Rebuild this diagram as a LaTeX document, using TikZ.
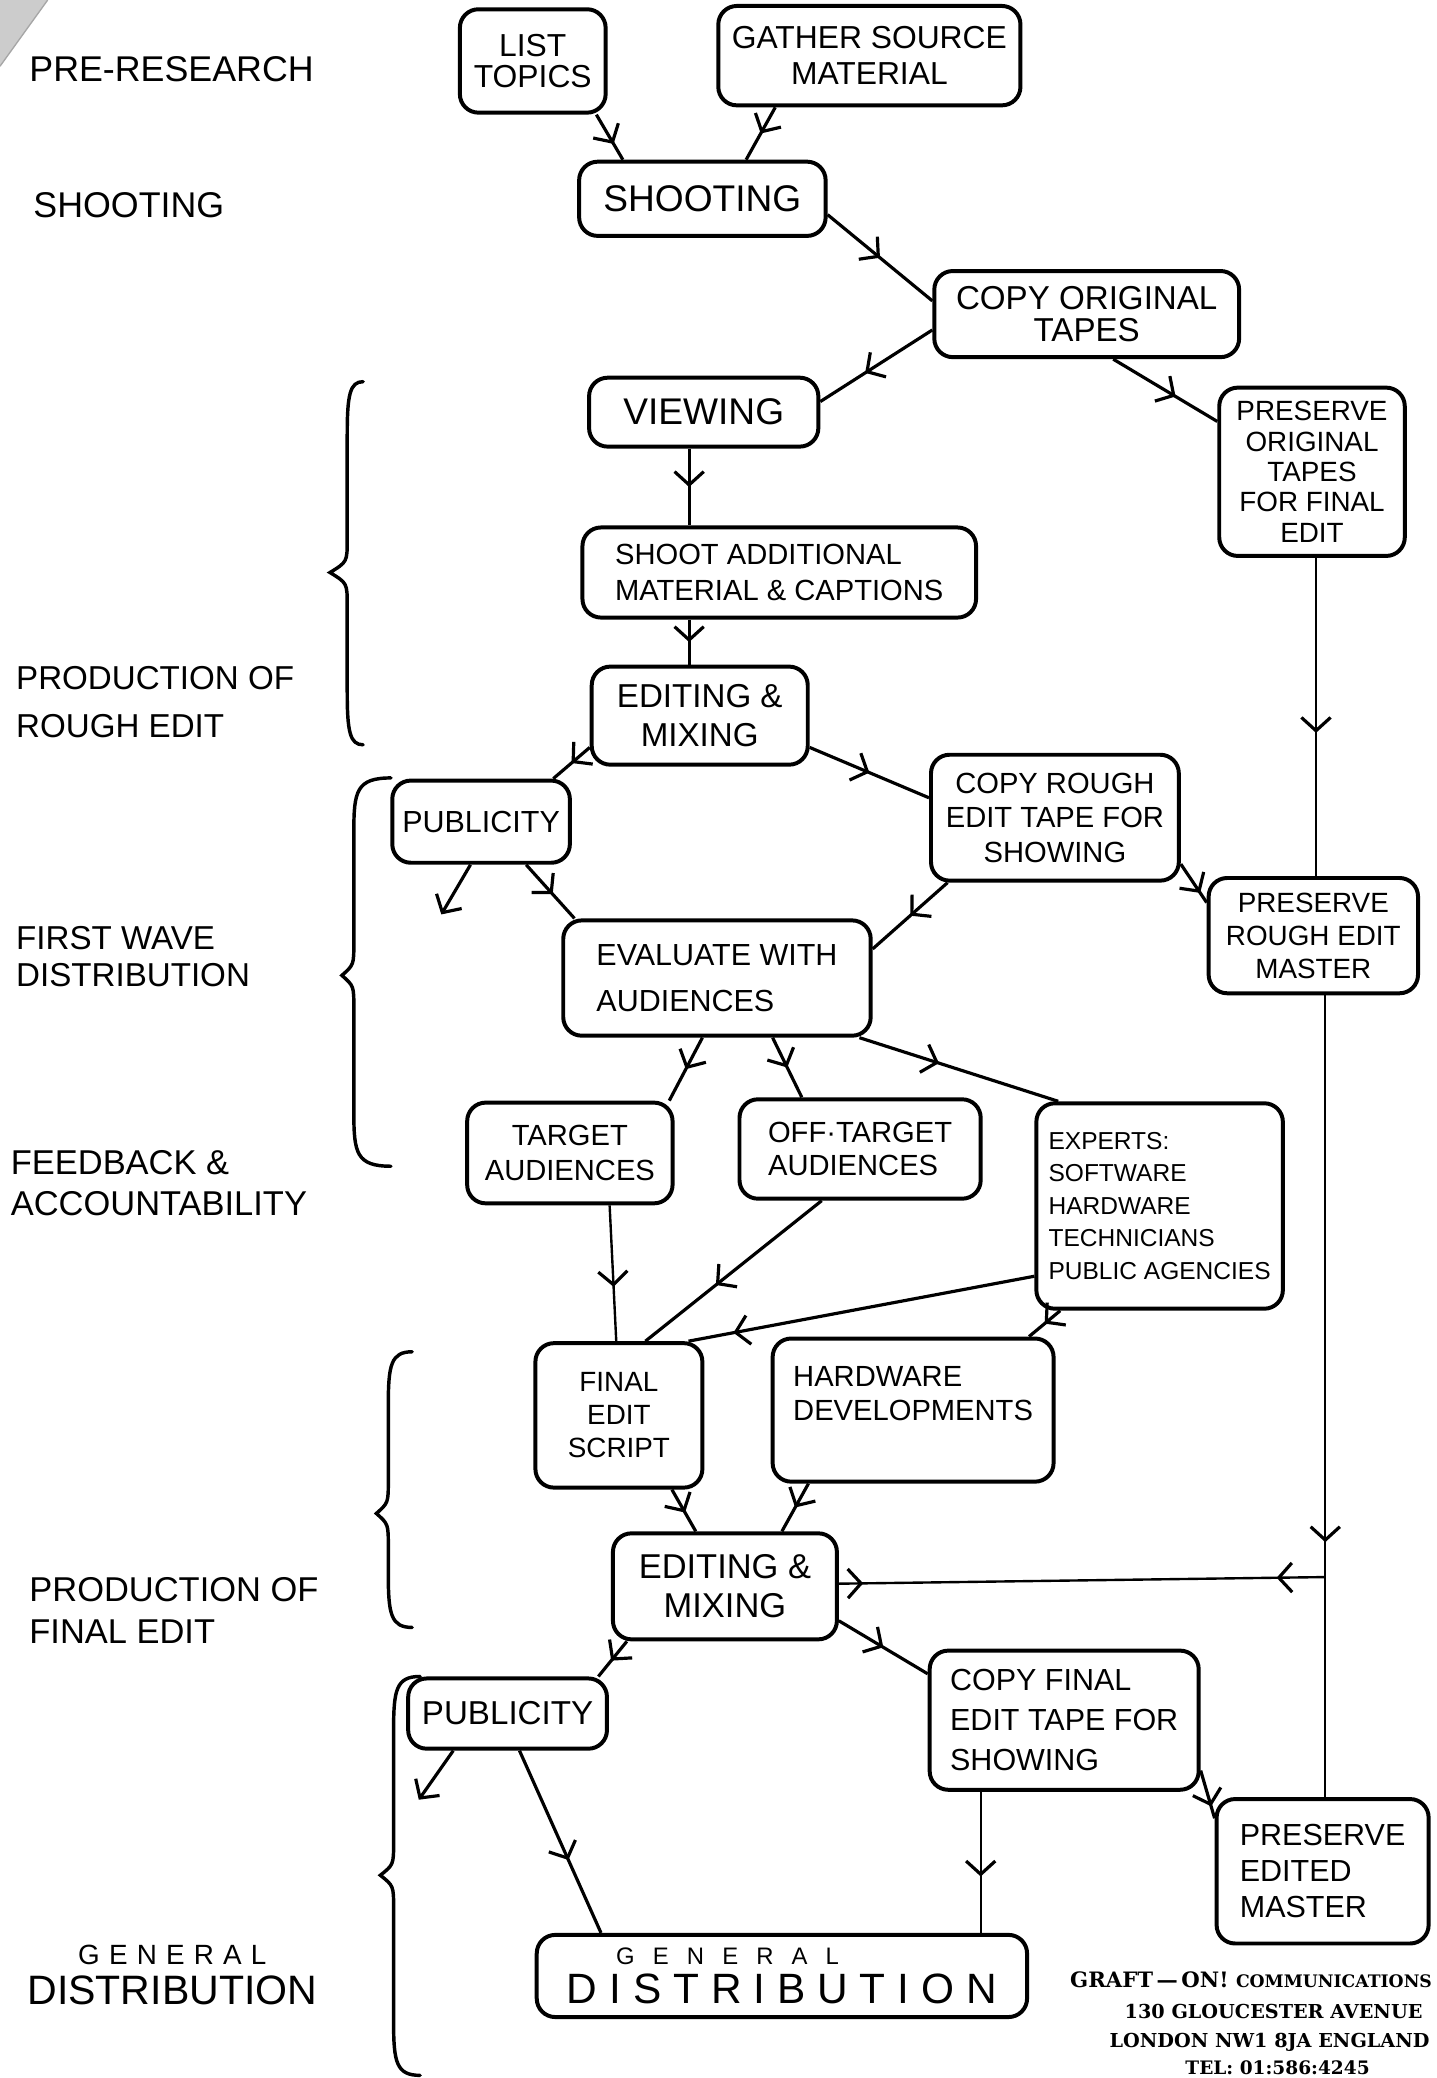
\documentclass[tikz,border=0pt]{standalone}
\usepackage{fontspec}
\setmainfont{Liberation Sans}
\newfontfamily\lhfont{DejaVu Serif}
\usetikzlibrary{arrows.meta,decorations.markings,calc}
\tikzset{
  chev/.tip={Straight Barb[length=10pt,width=22pt,line width=2.4pt]},
  box/.style={draw, line width=3pt, rounded corners=14pt, align=center, inner sep=2pt},
  fs/.style 2 args={font=\fontsize{#1}{#2}\selectfont},
  flow/.style={line width=2.4pt, postaction={decorate},
    decoration={markings, mark=at position #1 with {\arrow{chev}}}},
  flow/.default=0.5,
  thinl/.style={line width=1.8pt},
  free/.style={line width=2.4pt, -{chev}},
  brc/.style={line width=2.6pt, line cap=round},
  lab/.style={anchor=west, align=left, inner sep=0pt},
  lhead/.style={font=\lhfont\bfseries\fontsize{14.5}{14.5}\selectfont, inner sep=0pt}
}
\newcommand{\mybrace}[6]{%
  \draw[brc] (#1+#6,#2) .. controls (#1+2,#2) and (#1,#2+10) .. (#1,#2+40)
    -- (#1,#4-25) .. controls (#1,#4-8) .. (#5,#4)
    .. controls (#1,#4+8) .. (#1,#4+25)
    -- (#1,#3-40) .. controls (#1,#3-10) and (#1+2,#3) .. (#1+#6,#3);}
\begin{document}
\begin{tikzpicture}[x=1pt,y=-1pt]
\useasboundingbox (0,0) rectangle (1084,1568);
\clip (0,0) rectangle (1084,1568);
\fill[white] (0,0) rectangle (1084,1568);
% paper fold at top-left
\fill[gray!40] (0,0) -- (36,0) -- (0,50) -- cycle;
\draw[gray!70, line width=1pt] (36,0) -- (0,50);

% ---------- phase labels ----------
\node[lab, fs={27}{30}] (lpre) at (22,52) {PRE-RESEARCH};
\node[lab, fs={27}{30}] (lshoot) at (25,155) {SHOOTING};
\node[lab, fs={25}{36}] (lrough) at (12,530) {PRODUCTION OF\\ROUGH EDIT};
\node[lab, fs={25}{28}] (lfirst) at (12,722) {FIRST WAVE\\DISTRIBUTION};
\node[lab, fs={26}{31}] (lfeed) at (8,893) {FEEDBACK \&\\ACCOUNTABILITY};
\node[lab, fs={26}{32}] (lfinal) at (22,1215) {PRODUCTION OF\\FINAL EDIT};
\node[align=center, inner sep=0pt, fs={31}{30}] (lgen) at (130,1490)
  {{\fontsize{21}{21}\selectfont\addfontfeature{LetterSpace=33}GENERAL}\\DISTRIBUTION};

% ---------- braces ----------
\mybrace{262}{288}{562}{432}{249}{12}
\mybrace{267}{587}{880}{736}{258}{28}
\mybrace{293}{1020}{1228}{1142}{284}{18}
\mybrace{297}{1265}{1566}{1415}{287}{20}

% ---------- boxes ----------
\node[box, fs={24}{23}, minimum width=110pt, minimum height=78pt] (list) at (402,46) {LIST\\TOPICS};
\node[box, fs={24}{27}, minimum width=228pt, minimum height=75pt] (gather) at (656,42) {GATHER SOURCE\\MATERIAL};
\node[box, fs={28}{30}, minimum width=186pt, minimum height=56pt] (shoot) at (530,150) {SHOOTING};
\node[box, fs={25}{24}, minimum width=230pt, minimum height=65pt] (copyo) at (820,237) {COPY ORIGINAL\\TAPES};
\node[box, fs={28}{30}, minimum width=173pt, minimum height=52pt] (view) at (531,311) {VIEWING};
\node[box, fs={21}{23}, minimum width=140pt, minimum height=127pt] (preso) at (990,356) {PRESERVE\\ORIGINAL\\TAPES\\FOR FINAL\\EDIT};
\node[box, align=left, fs={22}{27}, minimum width=297pt, minimum height=68pt] (shootadd) at (588,432) {SHOOT ADDITIONAL\\MATERIAL \& CAPTIONS};
\node[box, fs={25}{30}, minimum width=163pt, minimum height=74pt] (edit1) at (528,540) {EDITING \&\\MIXING};
\node[box, fs={23}{26}, minimum width=134pt, minimum height=62pt] (pub1) at (363,620) {PUBLICITY};
\node[box, fs={22}{26}, minimum width=187pt, minimum height=95pt] (copyr) at (796,617) {COPY ROUGH\\EDIT TAPE FOR\\SHOWING};
\node[box, fs={21}{25}, minimum width=158pt, minimum height=87pt] (presr) at (991,706) {PRESERVE\\ROUGH EDIT\\MASTER};
\node[box, align=left, fs={23}{35}, minimum width=232pt, minimum height=87pt] (eval) at (541,738) {EVALUATE WITH\\AUDIENCES};
\node[box, fs={22}{26}, minimum width=155pt, minimum height=76pt] (target) at (430,870) {TARGET\\AUDIENCES};
\node[box, align=left, fs={22}{25}, minimum width=182pt, minimum height=75pt] (offt) at (649,867) {OFF·TARGET\\AUDIENCES};
\node[box, align=left, fs={18.5}{24.5}, minimum width=186pt, minimum height=155pt] (experts) at (875,910) {EXPERTS:\\SOFTWARE\\HARDWARE\\TECHNICIANS\\PUBLIC AGENCIES};
\node[box, fs={21}{25}, minimum width=126pt, minimum height=109pt] (fes) at (467,1068) {FINAL\\EDIT\\SCRIPT};
\node[box, align=left, fs={22}{25}, minimum width=212pt, minimum height=108pt] (hw) at (689,1064) {HARDWARE\\DEVELOPMENTS\\~};
\node[box, fs={26}{29}, minimum width=169pt, minimum height=80pt] (edit2) at (547,1197) {EDITING \&\\MIXING};
\node[box, fs={25}{27}, minimum width=150pt, minimum height=53pt] (pub2) at (383,1293) {PUBLICITY};
\node[box, align=left, fs={23}{30}, minimum width=203pt, minimum height=105pt] (copyf) at (803,1298) {COPY FINAL\\EDIT TAPE FOR\\SHOWING};
\node[box, align=left, fs={23}{27}, minimum width=160pt, minimum height=109pt] (prese) at (998,1412) {PRESERVE\\EDITED\\MASTER};
\node[box, fs={32}{29}, minimum width=370pt, minimum height=62pt] (gd) at (590,1491)
  {{\fontsize{18}{18}\selectfont\addfontfeature{LetterSpace=76}\hspace*{-82pt}GENERAL}\\{\addfontfeature{LetterSpace=28}DISTRIBUTION}};

% ---------- letterhead ----------
\node[lhead, font=\lhfont\bfseries\fontsize{16}{16}\selectfont] (lh1) at (944,1494) {GRAFT\,—\,ON! {\fontsize{13}{13}\selectfont COMMUNICATIONS}};
\node[lhead] (lh2) at (961,1518) {130 GLOUCESTER AVENUE};
\node[lhead] (lh3) at (958,1541) {LONDON NW1 8JA ENGLAND};
\node[lhead, font=\lhfont\bfseries\fontsize{14}{14}\selectfont] (lh4) at (964,1560) {TEL: 01:586:4245};

% ---------- connectors ----------
\coordinate (f1) at (333,690);
\coordinate (f2) at (316,1358);
\coordinate (J) at (1000,1190);

\draw[flow=0.65] ([xshift=48pt]list.south) -- ([xshift=-60pt]shoot.north);
\draw[flow=0.5] ([xshift=-71pt]gather.south) -- ([xshift=33pt]shoot.north);
\draw[flow=0.5] ([yshift=-12pt]shoot.east) -- ([yshift=10pt]copyo.west);
\draw[flow=0.6] ([yshift=-12pt]copyo.west) -- ([yshift=8pt]view.east);
\draw[flow=0.6] ([xshift=20pt]copyo.south) -- ([yshift=38pt]preso.west);
\draw[flow=0.5] ([xshift=-11pt]view.south) -- ([xshift=-68pt]shootadd.north);
\draw[flow=0.5] ([xshift=-68pt]shootadd.south) -- ([xshift=-8pt]edit1.north);
\draw[flow=0.5] ([yshift=-24pt]edit1.west) -- ([xshift=-14pt]pub1.north east);
\draw[flow=0.5] ([yshift=-24pt]edit1.east) -- ([yshift=15pt]copyr.west);
\draw[flow=0.55, thinl] ([xshift=3pt]preso.south) -- ([xshift=2pt]presr.north);
\draw[free] ([xshift=-8pt]pub1.south) -- (f1);
\draw[flow=0.55] ([xshift=34pt]pub1.south) -- ([xshift=10pt]eval.north west);
\draw[flow=0.5] ([xshift=14pt]copyr.south west) -- ([yshift=22pt]eval.east);
\draw[flow=0.75] ([yshift=-35pt]copyr.east) -- ([yshift=25pt]presr.west);
\draw[flow=0.5] ([xshift=-11pt]eval.south) -- ([xshift=75pt]target.north);
\draw[flow=0.5] ([xshift=42pt]eval.south) -- ([xshift=-44pt]offt.north);
\draw[flow=0.4] ([xshift=-10pt]eval.south east) -- ([xshift=18pt]experts.north west);
\draw[flow=0.6, thinl] ([xshift=30pt]target.south) -- ([xshift=-2pt]fes.north);
\draw[flow=0.6] ([xshift=-29pt]offt.south) -- ([xshift=20pt]fes.north);
\draw[flow=0.87] ([yshift=-53pt]experts.west) -- ([xshift=-12pt]fes.north east);
\draw[flow=0.5] ([xshift=-75pt]experts.south) -- ([xshift=-20pt]hw.north east);
\draw[flow=0.55] ([xshift=40pt]fes.south) -- ([xshift=-22pt]edit2.north);
\draw[flow=0.5] ([xshift=-79pt]hw.south) -- ([xshift=43pt]edit2.north);
\draw[flow=0.94, thinl] ([xshift=9pt]presr.south) -- (J);
\draw[thinl] (J) -- ([xshift=2pt]prese.north);
\draw[thinl, postaction={decorate}, decoration={markings,
    mark=at position 0.1 with {\arrow{chev}},
    mark=at position 0.95 with {\arrowreversed{chev}}}]
  (J) -- ([yshift=2pt]edit2.east);
\draw[flow=0.55] ([xshift=12pt]edit2.south west) -- ([xshift=-8pt]pub2.north east);
\draw[flow=0.5] ([yshift=-26pt]edit2.east) -- ([yshift=35pt]copyf.west);
\draw[free] ([xshift=-41pt]pub2.south) -- (f2);
\draw[flow=0.6] ([xshift=9pt]pub2.south) -- ([xshift=50pt]gd.north west);
\draw[flow=0.6, thinl] ([xshift=-63pt]copyf.south) -- ([xshift=150pt]gd.north);
\draw[flow=0.75] ([yshift=-38pt]copyf.east) -- ([yshift=-16pt]prese.north west);
\end{tikzpicture}
\end{document}
